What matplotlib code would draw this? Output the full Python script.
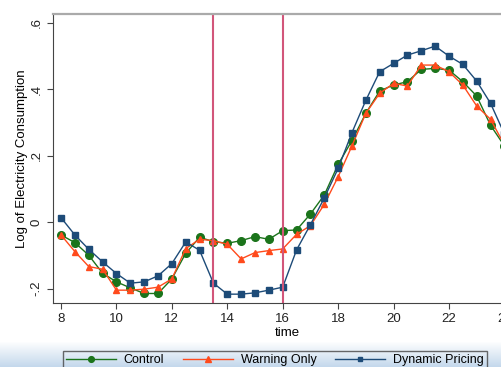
import numpy as np
import matplotlib.pyplot as plt

plt.rcParams['font.family'] = ['Liberation Sans', 'DejaVu Sans']
plt.rcParams['font.size'] = 9.5

# Half-hourly points, 8:00 to 24:00
time = np.arange(8, 24.01, 0.5)

control = [-0.039, -0.062, -0.100, -0.154, -0.180, -0.198, -0.215, -0.215,
           -0.171, -0.094, -0.046, -0.059, -0.064, -0.056, -0.044, -0.052,
           -0.026, -0.024, 0.024, 0.081, 0.173, 0.245, 0.327, 0.394,
           0.412, 0.422, 0.459, 0.462, 0.457, 0.422, 0.379, 0.291, 0.229]
warning = [-0.039, -0.089, -0.134, -0.142, -0.205, -0.205, -0.202, -0.196,
           -0.171, -0.080, -0.052, -0.056, -0.067, -0.111, -0.092, -0.086,
           -0.081, -0.037, -0.011, 0.053, 0.136, 0.229, 0.327, 0.387,
           0.417, 0.409, 0.472, 0.472, 0.452, 0.412, 0.349, 0.309, 0.232]
dynamic = [0.013, -0.039, -0.082, -0.120, -0.155, -0.184, -0.180, -0.162,
           -0.125, -0.060, -0.085, -0.184, -0.217, -0.217, -0.213, -0.205,
           -0.196, -0.084, -0.008, 0.072, 0.161, 0.269, 0.366, 0.452,
           0.477, 0.502, 0.515, 0.529, 0.499, 0.474, 0.424, 0.357, 0.265]

peak_start = 13.5
peak_end = 16
xticks = [8, 10, 12, 14, 16, 18, 20, 22, 24]
yticks = [-0.2, 0, 0.2, 0.4, 0.6]
yticklabels = ['-.2', '0', '.2', '.4', '.6']

fig = plt.figure(figsize=(5.02, 3.67), dpi=100)

# light blue band at the bottom of the screenshot
bg = fig.add_axes([0, 0, 1, 25 / 367])
grad = np.linspace(0, 1, 50).reshape(-1, 1)
bg.imshow(grad, aspect='auto', cmap=plt.matplotlib.colors.LinearSegmentedColormap.from_list(
    'band', ['#c4d8ec', '#ffffff']), origin='lower', extent=[0, 1, 0, 1])
bg.axis('off')

ax = fig.add_axes([53 / 502, 64 / 367, 468 / 502, 289 / 367])
ax.plot(time, control, '-o', color='#1b741b', lw=1, ms=5.5, label='Control')
ax.plot(time, warning, '-^', color='#ff4a1c', lw=1, ms=5, label='Warning Only')
ax.plot(time, dynamic, '-s', color='#1d4b78', lw=1, ms=4.5, label='Dynamic Pricing')
ax.axvline(peak_start, color='#d2567a', lw=1.5)
ax.axvline(peak_end, color='#d2567a', lw=1.5)

ax.set_xlim(7.71, 24.6)
ax.set_ylim(-0.2436, 0.6256)
ax.set_xticks(xticks)
ax.set_yticks(yticks)
ax.set_yticklabels(yticklabels, rotation=90, va='center')
ax.tick_params(direction='out', length=4, color='#444444', labelcolor='#222222')
ax.set_xlabel('time', labelpad=1)
ax.set_ylabel('Log of Electricity Consumption', labelpad=2)
for side in ['left', 'bottom']:
    ax.spines[side].set_color('#444444')
ax.spines['top'].set_color('#aaaaaa')
ax.spines['top'].set_linewidth(1.6)
ax.spines['right'].set_visible(False)

fig.legend(loc='upper left', bbox_to_anchor=(57 / 502, 1 - 345 / 367), ncol=3,
           frameon=True, fancybox=False, edgecolor='#444444', facecolor='none',
           fontsize=9, handlelength=4, handletextpad=0.6, columnspacing=1.5,
           borderpad=0.25, markerscale=0.75)

plt.savefig('out.png', dpi=100)
